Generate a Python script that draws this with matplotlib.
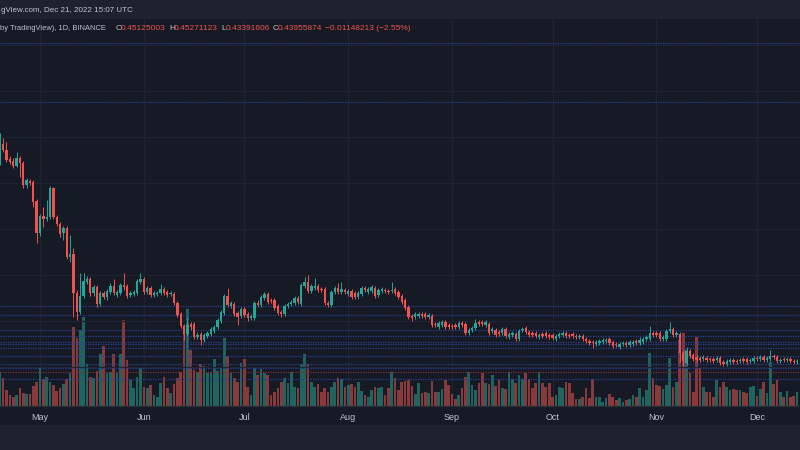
import pandas as pd
import matplotlib.pyplot as plt
from matplotlib.patches import Rectangle

plt.rcParams['font.family'] = ['Liberation Sans', 'DejaVu Sans']

# daily candles (price scale is unlabeled in the crop)
start_date = '2022-04-19'
opens = [
    2.43, 2.61, 2.55, 2.46, 2.44, 2.39, 2.47, 2.42, 2.20, 2.24,
    2.23, 2.04, 1.72, 1.89, 1.86, 1.88, 2.17, 1.88, 1.81, 1.72,
    1.77, 1.48, 1.51, 1.12, 0.93, 1.09, 1.23, 1.26, 1.12, 1.18,
    1.01, 1.12, 1.08, 1.13, 1.19, 1.10, 1.12, 1.20, 1.19, 1.10,
    1.11, 1.12, 1.23, 1.26, 1.13, 1.17, 1.10, 1.11, 1.12, 1.16,
    1.13, 1.11, 1.11, 1.02, 0.91, 0.79, 0.71, 0.81, 0.81, 0.68,
    0.71, 0.65, 0.69, 0.71, 0.74, 0.78, 0.84, 0.92, 1.09, 0.99,
    1.01, 0.92, 0.89, 0.96, 0.91, 0.87, 0.87, 1.02, 1.00, 1.07,
    1.11, 1.05, 1.05, 0.99, 0.93, 0.91, 0.99, 1.01, 1.02, 1.07,
    1.01, 1.19, 1.23, 1.14, 1.17, 1.19, 1.16, 1.16, 1.02, 1.00,
    1.13, 1.17, 1.13, 1.15, 1.11, 1.14, 1.12, 1.08, 1.11, 1.17,
    1.13, 1.14, 1.17, 1.10, 1.14, 1.15, 1.14, 1.14, 1.16, 1.13,
    1.09, 1.05, 0.98, 0.89, 0.88, 0.89, 0.91, 0.91, 0.88, 0.89,
    0.81, 0.78, 0.80, 0.83, 0.80, 0.79, 0.80, 0.78, 0.82, 0.81,
    0.72, 0.75, 0.77, 0.83, 0.83, 0.80, 0.81, 0.74, 0.75, 0.73,
    0.72, 0.76, 0.68, 0.70, 0.71, 0.66, 0.75, 0.77, 0.73, 0.72,
    0.72, 0.68, 0.71, 0.72, 0.70, 0.70, 0.66, 0.69, 0.70, 0.72,
    0.70, 0.71, 0.69, 0.68, 0.69, 0.66, 0.64, 0.63, 0.61, 0.62,
    0.63, 0.64, 0.66, 0.63, 0.61, 0.58, 0.61, 0.62, 0.60, 0.61,
    0.64, 0.62, 0.63, 0.66, 0.66, 0.72, 0.72, 0.72, 0.66, 0.66,
    0.74, 0.76, 0.70, 0.71, 0.52, 0.42, 0.54, 0.50, 0.48, 0.47,
    0.46, 0.47, 0.46, 0.46, 0.45, 0.47, 0.43, 0.41, 0.43, 0.45,
    0.44, 0.44, 0.46, 0.46, 0.44, 0.44, 0.47, 0.46, 0.48, 0.45,
    0.46, 0.49, 0.48, 0.44, 0.46, 0.45, 0.46, 0.44, 0.43]
closes = [
    2.62, 2.55, 2.45, 2.43, 2.39, 2.47, 2.42, 2.20, 2.25, 2.22,
    2.03, 1.72, 1.89, 1.86, 1.88, 2.17, 1.88, 1.81, 1.71, 1.77,
    1.48, 1.51, 1.12, 0.93, 1.09, 1.24, 1.26, 1.12, 1.18, 1.01,
    1.12, 1.08, 1.14, 1.19, 1.12, 1.13, 1.20, 1.18, 1.09, 1.12,
    1.13, 1.24, 1.26, 1.13, 1.17, 1.10, 1.12, 1.12, 1.16, 1.12,
    1.10, 1.12, 1.02, 0.90, 0.79, 0.71, 0.80, 0.78, 0.68, 0.70,
    0.65, 0.70, 0.72, 0.76, 0.78, 0.85, 0.93, 1.09, 1.00, 1.02,
    0.91, 0.88, 0.96, 0.90, 0.87, 0.89, 1.02, 1.00, 1.08, 1.11,
    1.03, 1.04, 0.97, 0.92, 0.91, 0.99, 1.01, 1.03, 1.07, 1.03,
    1.20, 1.23, 1.14, 1.19, 1.19, 1.15, 1.15, 1.02, 1.00, 1.13,
    1.17, 1.13, 1.16, 1.13, 1.14, 1.08, 1.08, 1.12, 1.17, 1.15,
    1.16, 1.18, 1.09, 1.15, 1.16, 1.14, 1.13, 1.15, 1.12, 1.08,
    1.03, 0.97, 0.88, 0.87, 0.91, 0.91, 0.89, 0.88, 0.90, 0.80,
    0.80, 0.82, 0.83, 0.78, 0.78, 0.78, 0.78, 0.82, 0.80, 0.72,
    0.75, 0.77, 0.82, 0.81, 0.81, 0.83, 0.72, 0.76, 0.70, 0.71,
    0.76, 0.69, 0.71, 0.72, 0.66, 0.74, 0.76, 0.73, 0.70, 0.70,
    0.69, 0.70, 0.69, 0.69, 0.68, 0.67, 0.69, 0.71, 0.72, 0.69,
    0.69, 0.69, 0.68, 0.69, 0.66, 0.64, 0.62, 0.62, 0.63, 0.64,
    0.65, 0.65, 0.62, 0.59, 0.60, 0.61, 0.62, 0.60, 0.63, 0.63,
    0.62, 0.65, 0.66, 0.68, 0.72, 0.70, 0.70, 0.66, 0.68, 0.74,
    0.76, 0.70, 0.72, 0.52, 0.44, 0.54, 0.49, 0.46, 0.45, 0.45,
    0.48, 0.45, 0.45, 0.44, 0.47, 0.42, 0.41, 0.44, 0.45, 0.43,
    0.43, 0.45, 0.44, 0.43, 0.45, 0.47, 0.46, 0.48, 0.45, 0.47,
    0.49, 0.48, 0.44, 0.45, 0.45, 0.46, 0.44, 0.43, 0.44]
highs = [
    2.72, 2.67, 2.63, 2.49, 2.47, 2.53, 2.49, 2.44, 2.27, 2.26,
    2.25, 2.06, 1.91, 1.98, 2.05, 2.19, 2.18, 1.90, 1.83, 1.79,
    1.79, 1.70, 1.57, 1.15, 1.32, 1.32, 1.29, 1.28, 1.20, 1.20,
    1.14, 1.14, 1.16, 1.22, 1.26, 1.15, 1.22, 1.32, 1.21, 1.14,
    1.15, 1.26, 1.32, 1.28, 1.19, 1.19, 1.14, 1.14, 1.21, 1.18,
    1.15, 1.14, 1.13, 1.04, 0.93, 0.81, 0.87, 0.83, 0.83, 0.73,
    0.73, 0.72, 0.74, 0.78, 0.80, 0.87, 0.95, 1.11, 1.17, 1.04,
    1.03, 0.94, 0.98, 0.98, 0.93, 0.91, 1.04, 1.05, 1.10, 1.13,
    1.13, 1.07, 1.07, 1.01, 0.95, 1.01, 1.03, 1.05, 1.09, 1.09,
    1.22, 1.28, 1.30, 1.21, 1.27, 1.21, 1.18, 1.18, 1.04, 1.15,
    1.19, 1.22, 1.23, 1.17, 1.16, 1.16, 1.14, 1.14, 1.19, 1.19,
    1.18, 1.20, 1.19, 1.17, 1.18, 1.17, 1.16, 1.23, 1.18, 1.15,
    1.11, 1.07, 1.00, 0.91, 0.93, 0.93, 0.93, 0.93, 0.92, 0.91,
    0.83, 0.84, 0.85, 0.85, 0.82, 0.81, 0.82, 0.84, 0.84, 0.83,
    0.77, 0.79, 0.86, 0.85, 0.85, 0.85, 0.83, 0.78, 0.77, 0.75,
    0.78, 0.78, 0.73, 0.74, 0.73, 0.76, 0.78, 0.79, 0.75, 0.74,
    0.74, 0.72, 0.73, 0.74, 0.72, 0.72, 0.71, 0.73, 0.74, 0.74,
    0.72, 0.73, 0.71, 0.71, 0.71, 0.68, 0.66, 0.65, 0.65, 0.66,
    0.67, 0.67, 0.68, 0.65, 0.63, 0.63, 0.64, 0.64, 0.65, 0.65,
    0.66, 0.68, 0.68, 0.70, 0.79, 0.74, 0.74, 0.74, 0.70, 0.76,
    0.83, 0.78, 0.74, 0.73, 0.54, 0.58, 0.56, 0.52, 0.50, 0.49,
    0.50, 0.49, 0.48, 0.48, 0.49, 0.49, 0.45, 0.46, 0.47, 0.47,
    0.46, 0.47, 0.48, 0.48, 0.47, 0.49, 0.49, 0.50, 0.50, 0.49,
    0.55, 0.51, 0.50, 0.47, 0.48, 0.48, 0.48, 0.46, 0.46]
lows = [
    2.40, 2.53, 2.43, 2.41, 2.37, 2.38, 2.28, 2.17, 2.17, 2.20,
    1.98, 1.62, 1.69, 1.78, 1.84, 1.86, 1.86, 1.79, 1.68, 1.65,
    1.46, 1.43, 0.88, 0.85, 0.91, 1.07, 1.21, 1.09, 1.09, 0.98,
    0.99, 1.06, 1.05, 1.11, 1.10, 1.08, 1.10, 1.15, 1.07, 1.08,
    1.09, 1.10, 1.21, 1.11, 1.11, 1.08, 1.08, 1.09, 1.10, 1.10,
    1.08, 1.09, 1.00, 0.88, 0.77, 0.65, 0.69, 0.75, 0.66, 0.66,
    0.60, 0.63, 0.67, 0.69, 0.72, 0.76, 0.82, 0.90, 0.98, 0.97,
    0.89, 0.80, 0.87, 0.88, 0.84, 0.85, 0.85, 0.98, 0.98, 1.05,
    1.01, 1.02, 0.95, 0.90, 0.88, 0.89, 0.97, 0.99, 1.00, 1.01,
    0.99, 1.17, 1.12, 1.12, 1.15, 1.13, 1.13, 1.00, 0.98, 0.98,
    1.11, 1.11, 1.11, 1.11, 1.09, 1.06, 1.06, 1.06, 1.09, 1.13,
    1.11, 1.12, 1.07, 1.08, 1.12, 1.12, 1.11, 1.12, 1.10, 1.06,
    1.01, 0.95, 0.86, 0.84, 0.86, 0.87, 0.87, 0.86, 0.86, 0.78,
    0.78, 0.76, 0.78, 0.76, 0.76, 0.76, 0.76, 0.76, 0.78, 0.70,
    0.70, 0.73, 0.75, 0.79, 0.79, 0.78, 0.70, 0.72, 0.68, 0.69,
    0.70, 0.67, 0.66, 0.68, 0.64, 0.64, 0.73, 0.71, 0.68, 0.68,
    0.67, 0.66, 0.67, 0.67, 0.66, 0.65, 0.64, 0.67, 0.68, 0.67,
    0.67, 0.67, 0.66, 0.66, 0.64, 0.62, 0.60, 0.57, 0.59, 0.60,
    0.61, 0.62, 0.60, 0.57, 0.58, 0.56, 0.59, 0.58, 0.58, 0.59,
    0.60, 0.60, 0.61, 0.64, 0.64, 0.68, 0.68, 0.64, 0.64, 0.64,
    0.72, 0.68, 0.68, 0.43, 0.39, 0.40, 0.47, 0.44, 0.43, 0.43,
    0.44, 0.43, 0.43, 0.42, 0.43, 0.40, 0.39, 0.39, 0.41, 0.41,
    0.41, 0.42, 0.42, 0.41, 0.42, 0.42, 0.44, 0.44, 0.43, 0.43,
    0.44, 0.46, 0.42, 0.42, 0.43, 0.43, 0.42, 0.41, 0.41]
volumes = [
    68, 56, 32, 22, 18, 22, 36, 26, 24, 24,
    40, 48, 76, 54, 58, 48, 42, 30, 36, 44,
    54, 66, 158, 136, 152, 178, 84, 58, 56, 70,
    104, 120, 66, 68, 104, 66, 104, 172, 92, 52,
    36, 58, 78, 38, 36, 42, 22, 18, 46, 58,
    36, 26, 44, 56, 68, 162, 194, 112, 72, 68,
    84, 80, 66, 68, 94, 70, 78, 136, 100, 66,
    56, 48, 86, 94, 38, 22, 76, 62, 74, 66,
    62, 22, 28, 36, 48, 56, 46, 68, 38, 36,
    84, 104, 84, 48, 38, 44, 28, 36, 28, 38,
    48, 56, 54, 38, 42, 44, 38, 48, 30, 22,
    18, 32, 38, 36, 38, 22, 36, 68, 56, 32,
    48, 50, 52, 40, 24, 46, 26, 28, 26, 50,
    28, 28, 34, 52, 42, 24, 14, 22, 36, 58,
    68, 42, 32, 46, 66, 46, 44, 62, 40, 52,
    36, 34, 68, 54, 46, 62, 54, 66, 54, 36,
    46, 68, 46, 38, 46, 18, 22, 38, 36, 48,
    46, 26, 14, 14, 18, 36, 16, 54, 18, 18,
    8, 16, 24, 18, 12, 16, 8, 12, 14, 22,
    18, 36, 18, 32, 106, 56, 42, 40, 34, 42,
    96, 38, 48, 132, 146, 112, 66, 28, 138, 76,
    38, 28, 28, 18, 52, 38, 48, 38, 32, 34,
    32, 32, 28, 26, 38, 40, 20, 34, 48, 26,
    88, 44, 52, 28, 18, 30, 18, 20, 28]

# drawn horizontal levels and the faint price grid
blue_levels = [3.62, 3.03, 0.99, 0.90, 0.75, 0.69, 0.63, 0.61, 0.57, 0.49, 0.41, 0.37, 0.26]
red_levels = [0.33]
grid_levels = [0.38, 0.84, 1.30, 1.76, 2.22, 2.68, 3.14, 3.60]

bg = '#161a25'
panel = '#1e222d'
up_col = '#26a69a'
down_col = '#ef5350'
up_vol = '#20645f'
down_vol = '#88393b'
txt = '#c0c3cb'

dates = pd.date_range(start_date, periods=len(closes), freq='D')
xs = list(range(len(closes)))
rising = [c >= o for o, c in zip(opens, closes)]
cand_cols = [up_col if r else down_col for r in rising]
vol_cols = [up_vol if r else down_vol for r in rising]
body_bot = [min(o, c) for o, c in zip(opens, closes)]
body_h = [max(abs(c - o), 0.008) for o, c in zip(opens, closes)]

fig = plt.figure(figsize=(8, 4.5), dpi=100)
fig.patch.set_facecolor(bg)

# volume sits in the lower axes, candles in the twin on top
ax = fig.add_axes([0, 44 / 450, 1, 387 / 450])
ax.set_facecolor(bg)
ax.bar(xs, volumes, width=0.8, color=vol_cols, zorder=2)
ax.set_ylim(0, 774)

ax2 = ax.twinx()
for g in grid_levels:
    ax2.axhline(g, color='#1f2330', lw=1, zorder=0)
for lv in blue_levels:
    ax2.axhline(lv, color='#2b3e90', lw=0.9, ls=(0, (1, 1)), zorder=1)
for lv in red_levels:
    ax2.axhline(lv, color='#7a2f3c', lw=0.9, ls=(0, (1, 1)), zorder=1)
ax2.vlines(xs, lows, highs, colors=cand_cols, lw=0.7, zorder=2)
ax2.bar(xs, body_h, bottom=body_bot, width=0.7, color=cand_cols, zorder=3)
ax2.set_ylim(-0.01, 3.86)

ax.set_xlim(0.06, 238.87)

month_idx = [i for i, d in enumerate(dates) if d.day == 1]
month_lab = [dates[i].strftime('%b') for i in month_idx]
ax.set_xticks(month_idx)
ax.set_xticklabels(month_lab)
ax.tick_params(axis='x', length=0, pad=5, labelsize=6.5, labelcolor=txt)
ax.grid(axis='x', color='#1f2330', lw=1, zorder=0)
ax.set_yticks([])
ax2.set_yticks([])
for a in (ax, ax2):
    for s in ('top', 'left', 'right'):
        a.spines[s].set_visible(False)
    a.spines['bottom'].set_color('#2a2e39')

# header strip and bottom panel
fig.add_artist(Rectangle((0, 1 - 19 / 450), 1, 19 / 450, transform=fig.transFigure,
                         color=panel, zorder=0))
fig.add_artist(Rectangle((0, 0), 1, 25 / 450, transform=fig.transFigure,
                         color=panel, zorder=0))


def put(px, py, s, col, size=6):
    fig.text(px / 800, 1 - py / 450, s, color=col, fontsize=size, va='center', ha='left')


put(1, 10, 'gView.com, Dec 21, 2022 15:07 UTC', txt, 5.8)
put(0, 29, 'by TradingView), 1D, BINANCE', txt, 5.4)
put(116, 29, 'O', txt)
put(121, 29, '0.45125003', down_col)
put(169, 29, 'H', txt)
put(174, 29, '0.45271123', down_col)
put(221, 29, 'L', txt)
put(226, 29, '0.43391606', down_col)
put(273, 29, 'C', txt)
put(278, 29, '0.43955874', down_col)
put(325, 29, '\u22120.01148213 (\u22122.55%)', down_col)

fig.savefig('out.png', dpi=100, facecolor=bg)
